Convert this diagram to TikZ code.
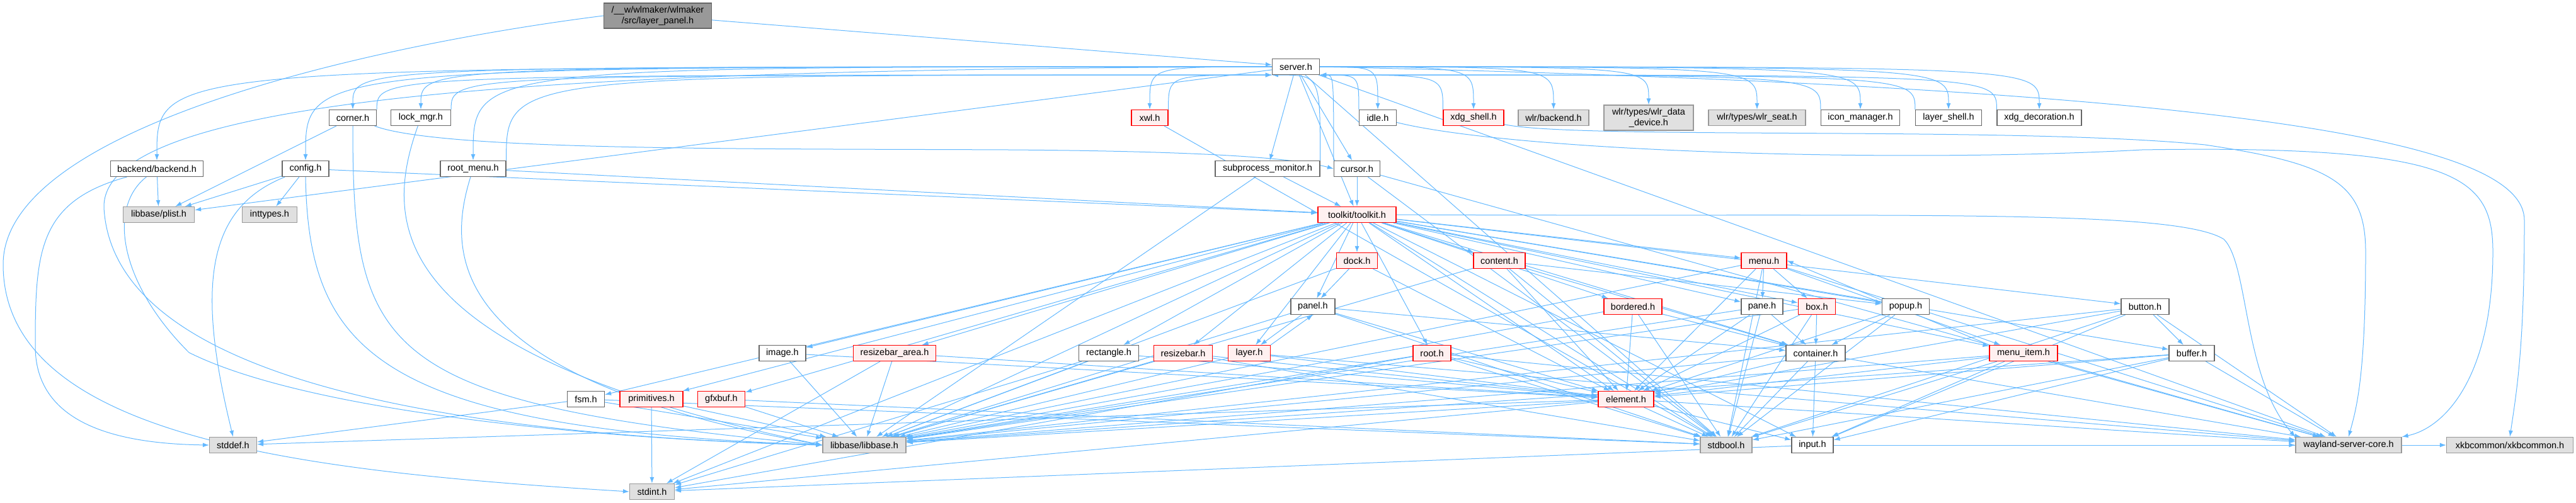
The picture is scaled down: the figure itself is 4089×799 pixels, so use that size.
\documentclass[tikz,border=0pt]{standalone}
\usepackage{fontspec}
\setmainfont{Liberation Sans}
\usetikzlibrary{arrows.meta}
\definecolor{edgeblue}{HTML}{63B8FF}
\definecolor{redfill}{HTML}{FFF0F0}
\definecolor{grayfill}{HTML}{E0E0E0}
\pgfdeclarelayer{bg}
\pgfsetlayers{bg,main}
\tikzset{
    hdr/.style={draw=black!60,fill=white,line width=1.2pt,minimum height=25pt,inner sep=0pt,font=\fontsize{14.5}{17}\selectfont},
    hdrred/.style={hdr,draw=red,fill=redfill},
    hdrsys/.style={hdr,draw=black!40,fill=grayfill},
    hdrtop/.style={hdr,fill=black!40,minimum height=40pt,align=center},
    dep/.style={->,draw=edgeblue,line width=1pt},
}
\begin{document}
\begin{tikzpicture}[x=1pt,y=-1pt,>={Latex[length=10pt,width=7pt]}]
    \useasboundingbox (0,0) rectangle (4089,799);
    % rank 0 and 1
    \node [hdrtop,minimum width=171pt] (lp) at (1044,25) {/\_\_w/wlmaker/wlmaker\\/src/layer\_panel.h};
    \node [hdr,minimum width=75pt] (server) at (2057,106) {server.h};
    % rank 2
    \node [hdr,minimum width=75pt] (corner) at (560,187) {corner.h};
    \node [hdr,minimum width=95pt] (lockmgr) at (668,187) {lock\_mgr.h};
    \node [hdrred,minimum width=58pt] (xwl) at (1825,187) {xwl.h};
    \node [hdr,minimum width=59pt] (idle) at (2187,187) {idle.h};
    \node [hdrred,minimum width=96pt] (xdgshell) at (2339,187) {xdg\_shell.h};
    \node [hdrsys,minimum width=112pt] (wlrbackend) at (2466,187) {wlr/backend.h};
    \node [hdrsys,minimum width=142pt,minimum height=40pt,align=center] (wlrdata) at (2617,187) {wlr/types/wlr\_data\\\_device.h};
    \node [hdrsys,minimum width=154pt] (wlrseat) at (2789,187) {wlr/types/wlr\_seat.h};
    \node [hdr,minimum width=125pt] (iconmgr) at (2953,187) {icon\_manager.h};
    \node [hdr,minimum width=105pt] (layershell) at (3093,187) {layer\_shell.h};
    \node [hdr,minimum width=134pt] (xdgdeco) at (3237,187) {xdg\_decoration.h};
    % rank 3
    \node [hdr,minimum width=147pt] (backend) at (249,268) {backend/backend.h};
    \node [hdr,minimum width=74pt] (config) at (485,268) {config.h};
    \node [hdr,minimum width=104pt] (rootmenu) at (751,268) {root\_menu.h};
    \node [hdr,minimum width=166pt] (subproc) at (2012,268) {subprocess\_monitor.h};
    \node [hdr,minimum width=73pt] (cursor) at (2154,268) {cursor.h};
    % rank 4
    \node [hdrsys,minimum width=113pt] (plist) at (252,341) {libbase/plist.h};
    \node [hdrsys,minimum width=87pt] (inttypes) at (428,341) {inttypes.h};
    \node [hdrred,minimum width=124pt] (toolkit) at (2154,341) {toolkit/toolkit.h};
    % rank 5
    \node [hdrred,minimum width=65pt] (dock) at (2154,414) {dock.h};
    \node [hdrred,minimum width=82pt] (content) at (2380,414) {content.h};
    \node [hdrred,minimum width=72pt] (menu) at (2800,414) {menu.h};
    % rank 6
    \node [hdr,minimum width=70pt] (panel) at (2084,487) {panel.h};
    \node [hdrred,minimum width=92pt] (bordered) at (2592,487) {bordered.h};
    \node [hdr,minimum width=66pt] (pane) at (2797,487) {pane.h};
    \node [hdrred,minimum width=59pt] (box) at (2884,487) {box.h};
    \node [hdr,minimum width=75pt] (popup) at (3025,487) {popup.h};
    \node [hdr,minimum width=76pt] (button) at (3405,487) {button.h};
    % rank 7
    \node [hdr,minimum width=74pt] (image) at (1242,561) {image.h};
    \node [hdrred,minimum width=131pt] (resarea) at (1420,561) {resizebar\_area.h};
    \node [hdr,minimum width=95pt] (rectangle) at (1760,561) {rectangle.h};
    \node [hdrred,minimum width=93pt] (resizebar) at (1878,561) {resizebar.h};
    \node [hdrred,minimum width=67pt] (layer) at (1983,561) {layer.h};
    \node [hdrred,minimum width=60pt] (root) at (2273,561) {root.h};
    \node [hdr,minimum width=94pt] (container) at (2882,561) {container.h};
    \node [hdrred,minimum width=108pt] (menuitem) at (3212,561) {menu\_item.h};
    \node [hdr,minimum width=72pt] (buffer) at (3479,561) {buffer.h};
    % rank 8
    \node [hdr,minimum width=59pt] (fsm) at (930,634) {fsm.h};
    \node [hdrred,minimum width=100pt] (primitives) at (1034,634) {primitives.h};
    \node [hdrred,minimum width=75pt] (gfxbuf) at (1145,634) {gfxbuf.h};
    \node [hdrred,minimum width=88pt] (element) at (2581,634) {element.h};
    % rank 9 and 10
    \node [hdrsys,minimum width=75pt] (stddef) at (370,707) {stddef.h};
    \node [hdrsys,minimum width=132pt] (libbase) at (1372,707) {libbase/libbase.h};
    \node [hdrsys,minimum width=82pt] (stdbool) at (2740,707) {stdbool.h};
    \node [hdr,minimum width=66pt] (input) at (2877,707) {input.h};
    \node [hdrsys,minimum width=168pt] (wayland) at (3728,707) {wayland-server-core.h};
    \node [hdrsys,minimum width=201pt] (xkb) at (3984,707) {xkbcommon/xkbcommon.h};
    \node [hdrsys,minimum width=71pt] (stdint) at (1035,781) {stdint.h};

    \begin{pgfonlayer}{bg}
    \begin{scope}[dep]
    \draw (lp) -- (server);
    \draw (lp.west) .. controls (600,70) and (5,200) .. (5,420) .. controls (5,700) and (500,750) .. (stdint.west);
    % server, out to the sides and back
    \foreach \t in {backend,config,corner,lockmgr,rootmenu,xwl}{
        \draw (server.west) .. controls (\t.north |- server.west) .. (\t.north);
    }
    \foreach \t in {idle,xdgshell,wlrbackend,wlrdata,wlrseat,iconmgr,layershell,xdgdeco}{
        \draw (server.east) .. controls (\t.north |- server.east) .. (\t.north);
    }
    \foreach \t in {subproc,cursor,toolkit,plist,stdbool,wayland}{
        \draw (server) -- (\t);
    }
    \foreach \s in {corner,lockmgr,rootmenu,xwl,subproc}{
        \draw (\s.north east) .. controls (\s.north east |- server.south west) .. (server.south west);
    }
    \foreach \s in {cursor,idle,xdgshell,iconmgr,layershell,xdgdeco}{
        \draw (\s.north west) .. controls (\s.north west |- server.south east) .. (server.south east);
    }
    \draw (server.west) .. controls (900,110) and (160,150) .. (165,330) .. controls (180,600) and (700,690) .. (libbase.west);
    \draw (server.east) .. controls (3600,140) and (4007,230) .. (4007,350) .. controls (4007,550) and (3995,620) .. (xkb.north);
    % rank 2 and 3
    \draw (backend) -- (plist);
    \draw (backend) .. controls (60,320) and (56,400) .. (56,550) .. controls (56,680) and (200,705) .. (stddef.west);
    \draw (backend) .. controls (170,330) and (190,450) .. (300,560) .. controls (500,660) and (1000,700) .. (libbase.west);
    \foreach \t in {plist,inttypes,toolkit}{
        \draw (config) -- (\t);
    }
    \draw (config) .. controls (330,330) and (310,450) .. (stddef.north);
    \draw (config.south) .. controls (490,560) and (600,680) .. (libbase.west);
    \draw (corner) -- (plist);
    \draw (corner.south) .. controls (560,560) and (600,640) .. (libbase.west);
    \draw (corner) .. controls (700,240) and (1200,236) .. (1600,238) .. controls (1900,240) and (2050,250) .. (cursor.west);
    \draw (lockmgr) .. controls (610,350) and (600,560) .. (libbase.west);
    \draw (rootmenu) .. controls (710,400) and (700,600) .. (libbase.west);
    \draw (rootmenu) -- (toolkit);
    \draw (xwl) -- (stdbool);
    \draw (subproc) -- (toolkit);
    \draw (subproc) -- (libbase);
    \foreach \t in {toolkit,wayland,stdbool}{
        \draw (cursor) -- (\t);
    }
    \draw (idle) .. controls (2400,240) and (3000,260) .. (3400,238) .. controls (3900,230) and (3957,280) .. (3957,400) .. controls (3957,600) and (3880,680) .. (wayland.north east);
    \draw (xdgshell) .. controls (2500,222) and (3200,200) .. (3500,230) .. controls (3700,260) and (3755,290) .. (3755,400) .. controls (3755,600) and (3740,650) .. (wayland.north);
    % toolkit
    \foreach \t in {dock,content,menu,panel,bordered,pane,box,popup,button,image,resarea,rectangle,resizebar,layer,root,container,menuitem,buffer,fsm,primitives,gfxbuf,element,input,libbase,stdbool,stdint}{
        \draw (toolkit) -- (\t);
    }
    \draw (toolkit.east) .. controls (3000,345) and (3450,330) .. (3530,380) .. controls (3570,420) and (3560,600) .. (wayland.north west);
    % toolkit parts
    \foreach \t in {panel,element,libbase}{
        \draw (dock) -- (\t);
    }
    \foreach \t in {element,stdbool,libbase,popup,container}{
        \draw (content) -- (\t);
    }
    \foreach \t in {pane,box,menuitem,element,stdbool,wayland,libbase}{
        \draw (menu) -- (\t);
    }
    \foreach \t in {element,container,libbase,stdbool,layer}{
        \draw (panel) -- (\t);
    }
    \draw (layer.north east) -- (panel.south);
    \foreach \t in {element,libbase,wayland}{
        \draw (layer) -- (\t);
    }
    \foreach \t in {element,container,stdbool,libbase}{
        \draw (bordered) -- (\t);
        \draw (pane) -- (\t);
        \draw (box) -- (\t);
    }
    \foreach \t in {container,element,stdbool}{
        \draw (popup) -- (\t);
    }
    \foreach \t in {buffer,element,stdbool,input,libbase,wayland}{
        \draw (button) -- (\t);
    }
    \foreach \t in {element,libbase}{
        \draw (image) -- (\t);
    }
    \foreach \t in {element,libbase,stdint}{
        \draw (resarea) -- (\t);
        \draw (rectangle) -- (\t);
    }
    \foreach \t in {element,libbase,stdbool}{
        \draw (resizebar) -- (\t);
    }
    \foreach \t in {element,libbase,stdbool,wayland,stdint}{
        \draw (root) -- (\t);
    }
    \foreach \t in {element,input,stdbool,libbase,wayland}{
        \draw (container) -- (\t);
        \draw (buffer) -- (\t);
    }
    \foreach \t in {element,stdbool,libbase,wayland,input}{
        \draw (menuitem) -- (\t);
    }
    \draw (menuitem.north west) -- (menu.east);
    \foreach \t in {libbase,stdbool,stddef}{
        \draw (fsm) -- (\t);
    }
    \foreach \t in {stdint,libbase}{
        \draw (primitives) -- (\t);
    }
    \foreach \t in {libbase,stdbool}{
        \draw (gfxbuf) -- (\t);
    }
    \foreach \t in {libbase,stdbool,input,wayland,stddef,stdint}{
        \draw (element) -- (\t);
    }
    \foreach \t in {stdint,xkb,wayland}{
        \draw (input) -- (\t);
    }
    \end{scope}
    \end{pgfonlayer}
\end{tikzpicture}
\end{document}
